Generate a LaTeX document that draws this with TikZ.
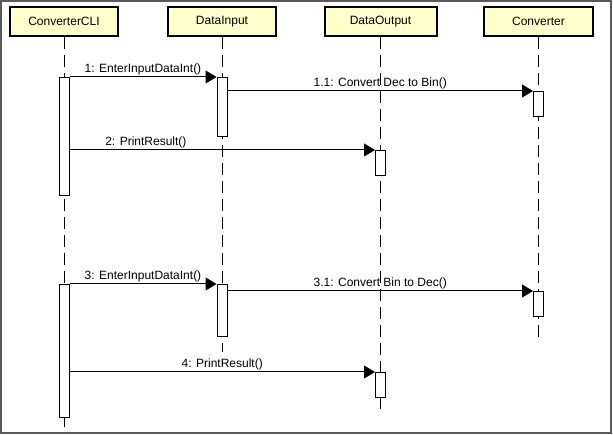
\documentclass[tikz,border=0pt]{standalone}
\usepackage{fontspec}
\setmainfont{Liberation Sans}
\usetikzlibrary{arrows.meta}

\definecolor{objyellow}{HTML}{FFFFCC}
\definecolor{framegray}{HTML}{5A5A5A}
\newcommand{\msgfont}{\fontsize{12}{14}\selectfont}

\begin{document}
\begin{tikzpicture}[x=1pt, y=-1pt, line cap=butt, line join=miter]
  % ---- Styles ----
  \tikzset{
    obj/.style={draw, line width=2pt, fill=objyellow, minimum width=108pt,
      minimum height=29pt, inner sep=0pt, font=\msgfont},
    life/.style={line width=1pt, dash pattern=on 12pt off 6pt},
    act/.style={draw, line width=1pt, fill=white, minimum width=10pt,
      inner sep=0pt, anchor=north},
    msg/.style={-{Triangle[length=11pt, width=13pt]}, line width=1pt},
    lbl/.style={font=\msgfont, above, inner sep=1.5pt},
  }

  % ---- Frame ----
  \useasboundingbox (0,0) rectangle (613,435);
  \draw[framegray, line width=2pt] (1,1) rectangle (611,433);

  % ---- Objects ----
  \node[obj] (cli) at (64,21.5) {ConverterCLI};
  \node[obj] (din) at (222,21.5) {DataInput};
  \node[obj, minimum width=112pt] (dout) at (380.5,21.5) {DataOutput};
  \node[obj, minimum width=109pt] (conv) at (538.5,21.5) {Converter};

  % Lifelines
  \coordinate (cliEnd) at (64,428);
  \coordinate (dinEnd) at (222,352);
  \coordinate (doutEnd) at (380.5,409);
  \coordinate (convEnd) at (538.5,337);
  \draw[life] (cli.south) -- (cliEnd);
  \draw[life] (din.south) -- (dinEnd);
  \draw[life] (dout.south) -- (doutEnd);
  \draw[life] (conv.south) -- (convEnd);

  % ---- Activations ----
  \node[act, minimum height=118pt] (cli1) at (64,77) {};
  \node[act, minimum height=59pt] (din1) at (222,77) {};
  \node[act, minimum height=25pt] (conv1) at (538.5,91) {};
  \node[act, minimum height=25pt] (dout1) at (380.5,150) {};
  \node[act, minimum height=133pt] (cli2) at (64,284) {};
  \node[act, minimum height=52pt] (din2) at (222,284) {};
  \node[act, minimum height=25pt] (conv2) at (538.5,291) {};
  \node[act, minimum height=25pt] (dout2) at (380.5,372) {};

  % ---- Messages ----
  \draw[msg] (cli1.north east) -- node[lbl] {1: EnterInputDataInt()} (din1.north west);
  \draw[msg] (din1.east |- conv1.north) -- node[lbl] {1.1: Convert Dec to Bin()} (conv1.north west);
  \draw[msg] (cli1.east |- dout1.north) -- node[lbl, pos=0.25] {2: PrintResult()} (dout1.north west);

  \draw[msg] (cli2.north east) -- node[lbl] {3: EnterInputDataInt()} (din2.north west);
  \draw[msg] (din2.east |- conv2.north) -- node[lbl] {3.1: Convert Bin to Dec()} (conv2.north west);
  \draw[msg] (cli2.east |- dout2.north) -- node[lbl] {4: PrintResult()} (dout2.north west);

\end{tikzpicture}
\end{document}
